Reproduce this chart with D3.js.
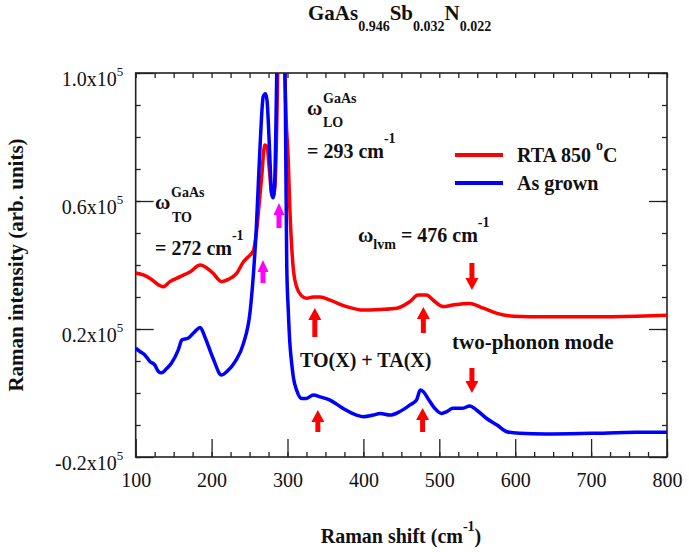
<!DOCTYPE html>
<html>
<head>
<meta charset="utf-8">
<script src="https://cdn.jsdelivr.net/npm/d3@7"></script>
<style>
  body { margin: 0; background: #fff; }
</style>
</head>
<body>
<div id="chart"></div>
<script>
// Raman shift (cm-1) and intensity (x10^5 arb. units)
const rtaShift = [100,110,119,130,136,145,158,172,185,194,202,213,222,233,242,248,255,259,263,266,
  270,273,276,279,281,283.5,285.8,287.5,291,296.5,298,301,303,305.5,308,310,313,318,325,334,
  343,356,378,400,422,444,461,472,483,492,505,518,540,558,576,598,640,700,760,800];
const rtaInt = [.375,.369,.358,.338,.332,.348,.363,.379,.40,.39,.374,.348,.355,.374,.41,.425,.445,.50,.60,.676,
  .775,.77,.70,.625,.613,.645,.83,1.05,1.5,1.0,.87,.728,.58,.457,.38,.35,.325,.305,.296,.30,
  .30,.29,.27,.259,.261,.265,.285,.306,.306,.29,.27,.275,.28,.265,.249,.24,.238,.238,.24,.243];

const grownShift = [100,106,112,119,125,130,134,141,147,156,161,169,178,185,191,202,213,220,231,242,
  251,259,264,268,271,273,276,279,281,283,285.5,287,291,295.5,297,299,301,303,305.5,308,
  312,318.7,325,334,343,356,373,391,400,413,422,435,448,461,470,475,479,485,494,503,
  510,518,530,540,549,562,576,589,606,640,700,760,800];
const grownInt = [.14,.129,.119,.098,.088,.067,.063,.077,.093,.134,.166,.171,.192,.205,.176,.108,.056,.067,.098,.155,
  .26,.52,.78,.926,.935,.915,.78,.625,.61,.65,.95,1.2,1.6,1.2,.95,.40,.26,.16,.093,.045,
  .009,-.017,-.017,-.006,-.012,-.022,-.048,-.069,-.074,-.069,-.064,-.069,-.058,-.038,-.022,.009,.004,-.017,-.048,-.064,
  -.058,-.048,-.048,-.041,-.053,-.079,-.10,-.121,-.126,-.128,-.126,-.123,-.123];

const xMajor = [100,200,300,400,500,600,700,800];
const yMajor = [-0.2,0.2,0.6,1.0];

const FONT = "'Liberation Serif'";

// set the dimensions and margins of the graph
const margin = {top: 73, right: 22, bottom: 95, left: 135.7},
  width = 689 - margin.left - margin.right,
  height = 552 - margin.top - margin.bottom;

const svg = d3.select("#chart")
  .append("svg")
  .attr("width", 689)
  .attr("height", 552)
  .style("font-family", FONT);

const g = svg.append("g")
  .attr("transform", `translate(${margin.left}, ${margin.top})`);

const x = d3.scaleLinear().domain([100, 800]).range([0, width]);
const y = d3.scaleLinear().domain([-0.2, 1.0]).range([height, 0]);

const xMinor = d3.range(100, 801, 25);
const yMinor = d3.range(-2, 11).map(d => d / 10);

// minor ticks on all four sides
g.append("g").attr("transform", `translate(0, ${height})`)
  .call(d3.axisBottom(x).tickValues(xMinor).tickSize(-5).tickFormat(""));
g.append("g")
  .call(d3.axisTop(x).tickValues(xMinor).tickSize(-5).tickFormat(""));
g.append("g")
  .call(d3.axisLeft(y).tickValues(yMinor).tickSize(-5).tickFormat(""));
g.append("g").attr("transform", `translate(${width}, 0)`)
  .call(d3.axisRight(y).tickValues(yMinor).tickSize(-5).tickFormat(""));

// major ticks
const xAxis = g.append("g").attr("transform", `translate(0, ${height})`)
  .call(d3.axisBottom(x).tickValues(xMajor).tickSize(-18).tickPadding(16));
g.append("g").attr("transform", `translate(${width}, 0)`)
  .call(d3.axisRight(y).tickValues(yMajor).tickSize(-18).tickFormat(""));
const yAxis = g.append("g")
  .call(d3.axisLeft(y).tickValues(yMajor).tickSize(-18).tickPadding(12.5));

g.selectAll(".domain").remove();
g.selectAll(".tick line").attr("stroke", "#222").attr("stroke-width", 1.3);
g.selectAll("g").attr("font-family", null);

xAxis.selectAll(".tick text")
  .style("font-family", FONT)
  .style("font-size", "20px")
  .attr("fill", "#111");

yAxis.selectAll(".tick text")
  .text(null)
  .style("font-family", FONT)
  .style("font-size", "20px")
  .attr("fill", "#111")
  .attr("dy", "0.6em")
  .each(function(d) {
    const t = d3.select(this);
    t.append("tspan").text(d.toFixed(1) + "x10");
    t.append("tspan").attr("dy", "-0.7em").style("font-size", "13px").text("5");
  });

// plot frame
g.append("rect")
  .attr("width", width).attr("height", height)
  .attr("fill", "none").attr("stroke", "#222").attr("stroke-width", 1.6);

// clip curves to the frame
svg.append("defs").append("clipPath").attr("id", "clip")
  .append("rect").attr("width", width).attr("height", height);

const line = d3.line()
  .x(d => x(d[0]))
  .y(d => y(d[1]))
  .curve(d3.curveMonotoneX);

const plot = g.append("g").attr("clip-path", "url(#clip)");

plot.append("path")
  .datum(d3.zip(rtaShift, rtaInt))
  .attr("d", line)
  .attr("fill", "none")
  .attr("stroke", "#ff0000")
  .attr("stroke-width", 3.5)
  .attr("stroke-linejoin", "round");

plot.append("path")
  .datum(d3.zip(grownShift, grownInt))
  .attr("d", line)
  .attr("fill", "none")
  .attr("stroke", "#0000ff")
  .attr("stroke-width", 3.5)
  .attr("stroke-linejoin", "round");

// arrows (data coordinates: shift, tail, tip)
const arrows = [
  {s: 267.7, from: 0.344, to: 0.416, c: "#ff00ff", hw: 5.5},
  {s: 288.8, from: 0.516, to: 0.594, c: "#ff00ff", hw: 5.5},
  {s: 336, from: 0.175, to: 0.266, c: "#ff0000", hw: 6.5},
  {s: 340, from: -0.122, to: -0.053, c: "#ff0000", hw: 6.5},
  {s: 479, from: 0.1875, to: 0.269, c: "#ff0000", hw: 6.5},
  {s: 478, from: -0.122, to: -0.047, c: "#ff0000", hw: 6.5},
  {s: 543, from: 0.406, to: 0.322, c: "#ff0000", hw: 6.5},
  {s: 543, from: 0.078, to: 0.0, c: "#ff0000", hw: 6.5}
];

g.selectAll(".arrow")
  .data(arrows)
  .enter()
  .append("path")
  .attr("class", "arrow")
  .attr("fill", d => d.c)
  .attr("d", function(d) {
    const px = x(d.s), y0 = y(d.from), y1 = y(d.to);
    const dir = y1 > y0 ? 1 : -1;
    const yh = y1 - dir * 12, sw = 2.5;
    return `M${px - sw},${y0}L${px - sw},${yh}L${px - d.hw},${yh}L${px},${y1}` +
      `L${px + d.hw},${yh}L${px + sw},${yh}L${px + sw},${y0}Z`;
  });

// text helpers
function bold(xp, yp, size, str) {
  return svg.append("text")
    .attr("x", xp).attr("y", yp)
    .style("font-family", FONT)
    .style("font-size", size + "px")
    .style("font-weight", "bold")
    .attr("fill", "#111")
    .text(str);
}

// title
const title = bold(308, 20, 21, null);
title.append("tspan").text("GaAs");
title.append("tspan").attr("dy", 11).style("font-size", "14px").text("0.946");
title.append("tspan").attr("dy", -11).text("Sb");
title.append("tspan").attr("dy", 11).style("font-size", "14px").text("0.032");
title.append("tspan").attr("dy", -11).text("N");
title.append("tspan").attr("dy", 11).style("font-size", "14px").text("0.022");

// axis titles
bold(0, 0, 21, "Raman intensity (arb. units)")
  .attr("transform", "translate(23, 265) rotate(-90)")
  .attr("text-anchor", "middle");

const xl = bold(401, 543, 20, null).attr("text-anchor", "middle");
xl.append("tspan").text("Raman shift (cm");
xl.append("tspan").attr("dy", -12).style("font-size", "14px").text("-1");
xl.append("tspan").attr("dy", 12).text(")");

// peak labels
bold(155, 209, 21, "\u03c9");
bold(171, 197, 14, "GaAs");
bold(172, 222, 14, "TO");
const t272 = bold(155, 255, 20, "= 272 cm");
t272.append("tspan").attr("dy", -15).style("font-size", "14px").text("-1");

bold(307, 115, 21, "\u03c9");
bold(323, 103, 14, "GaAs");
bold(323, 127, 14, "LO");
const t293 = bold(307, 158, 20, "= 293 cm");
t293.append("tspan").attr("dy", -15).style("font-size", "14px").text("-1");

const lvm = bold(358, 242, 21, "\u03c9");
lvm.append("tspan").attr("dy", 7).style("font-size", "14px").text("lvm");
lvm.append("tspan").attr("dy", -7).style("font-size", "20px").text(" = 476 cm");
lvm.append("tspan").attr("dy", -15).style("font-size", "14px").text("-1");

bold(300, 367, 20, "TO(X) + TA(X)");
bold(452, 349, 21, "two-phonon mode");

// legend
const legend = [
  {label: "RTA 850 ", sup: "o", tail: "C", c: "#ff0000", yp: 155},
  {label: "As grown", c: "#0000ff", yp: 183}
];
legend.forEach(function(d) {
  svg.append("line")
    .attr("x1", 455).attr("x2", 503)
    .attr("y1", d.yp).attr("y2", d.yp)
    .attr("stroke", d.c).attr("stroke-width", 4);
  const t = bold(517, d.yp + 7, 20, d.label);
  if (d.sup) {
    t.append("tspan").attr("dy", -12).style("font-size", "14px").text(d.sup);
    t.append("tspan").attr("dy", 12).text(d.tail);
  }
});
</script>
</body>
</html>
